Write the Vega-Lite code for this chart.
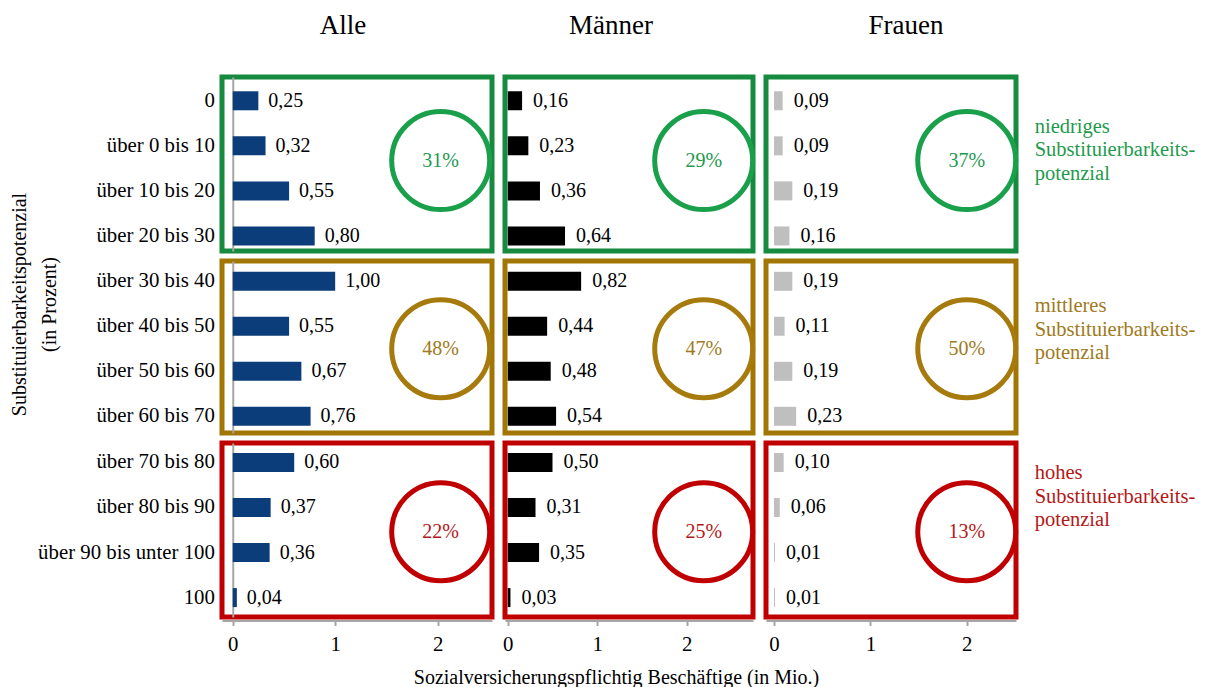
{
  "$schema": "https://vega.github.io/schema/vega-lite/v6.json",
  "padding": {"left": 7, "top": 9, "right": 5, "bottom": 0},
  "background": "#ffffff",
  "config": {
    "font": "Liberation Serif",
    "view": {"stroke": null},
    "locale": {"number": {"decimal": ",", "thousands": ".", "grouping": [3], "currency": ["", " €"]}},
    "axis": {"labelFont": "Liberation Serif", "titleFont": "Liberation Serif", "labelColor": "#000000", "titleColor": "#000000", "grid": false},
    "title": {"font": "Liberation Serif", "color": "#000000", "fontWeight": "normal"},
    "text": {"font": "Liberation Serif"}
  },
  "datasets": {
    "werte": [
      {"gruppe": "Alle", "stufe": "niedrig", "kategorie": "0", "wert": 0.25},
      {"gruppe": "Alle", "stufe": "niedrig", "kategorie": "über 0 bis 10", "wert": 0.32},
      {"gruppe": "Alle", "stufe": "niedrig", "kategorie": "über 10 bis 20", "wert": 0.55},
      {"gruppe": "Alle", "stufe": "niedrig", "kategorie": "über 20 bis 30", "wert": 0.80},
      {"gruppe": "Alle", "stufe": "mittel", "kategorie": "über 30 bis 40", "wert": 1.00},
      {"gruppe": "Alle", "stufe": "mittel", "kategorie": "über 40 bis 50", "wert": 0.55},
      {"gruppe": "Alle", "stufe": "mittel", "kategorie": "über 50 bis 60", "wert": 0.67},
      {"gruppe": "Alle", "stufe": "mittel", "kategorie": "über 60 bis 70", "wert": 0.76},
      {"gruppe": "Alle", "stufe": "hoch", "kategorie": "über 70 bis 80", "wert": 0.60},
      {"gruppe": "Alle", "stufe": "hoch", "kategorie": "über 80 bis 90", "wert": 0.37},
      {"gruppe": "Alle", "stufe": "hoch", "kategorie": "über 90 bis unter 100", "wert": 0.36},
      {"gruppe": "Alle", "stufe": "hoch", "kategorie": "100", "wert": 0.04},
      {"gruppe": "Männer", "stufe": "niedrig", "kategorie": "0", "wert": 0.16},
      {"gruppe": "Männer", "stufe": "niedrig", "kategorie": "über 0 bis 10", "wert": 0.23},
      {"gruppe": "Männer", "stufe": "niedrig", "kategorie": "über 10 bis 20", "wert": 0.36},
      {"gruppe": "Männer", "stufe": "niedrig", "kategorie": "über 20 bis 30", "wert": 0.64},
      {"gruppe": "Männer", "stufe": "mittel", "kategorie": "über 30 bis 40", "wert": 0.82},
      {"gruppe": "Männer", "stufe": "mittel", "kategorie": "über 40 bis 50", "wert": 0.44},
      {"gruppe": "Männer", "stufe": "mittel", "kategorie": "über 50 bis 60", "wert": 0.48},
      {"gruppe": "Männer", "stufe": "mittel", "kategorie": "über 60 bis 70", "wert": 0.54},
      {"gruppe": "Männer", "stufe": "hoch", "kategorie": "über 70 bis 80", "wert": 0.50},
      {"gruppe": "Männer", "stufe": "hoch", "kategorie": "über 80 bis 90", "wert": 0.31},
      {"gruppe": "Männer", "stufe": "hoch", "kategorie": "über 90 bis unter 100", "wert": 0.35},
      {"gruppe": "Männer", "stufe": "hoch", "kategorie": "100", "wert": 0.03},
      {"gruppe": "Frauen", "stufe": "niedrig", "kategorie": "0", "wert": 0.09},
      {"gruppe": "Frauen", "stufe": "niedrig", "kategorie": "über 0 bis 10", "wert": 0.09},
      {"gruppe": "Frauen", "stufe": "niedrig", "kategorie": "über 10 bis 20", "wert": 0.19},
      {"gruppe": "Frauen", "stufe": "niedrig", "kategorie": "über 20 bis 30", "wert": 0.16},
      {"gruppe": "Frauen", "stufe": "mittel", "kategorie": "über 30 bis 40", "wert": 0.19},
      {"gruppe": "Frauen", "stufe": "mittel", "kategorie": "über 40 bis 50", "wert": 0.11},
      {"gruppe": "Frauen", "stufe": "mittel", "kategorie": "über 50 bis 60", "wert": 0.19},
      {"gruppe": "Frauen", "stufe": "mittel", "kategorie": "über 60 bis 70", "wert": 0.23},
      {"gruppe": "Frauen", "stufe": "hoch", "kategorie": "über 70 bis 80", "wert": 0.10},
      {"gruppe": "Frauen", "stufe": "hoch", "kategorie": "über 80 bis 90", "wert": 0.06},
      {"gruppe": "Frauen", "stufe": "hoch", "kategorie": "über 90 bis unter 100", "wert": 0.01},
      {"gruppe": "Frauen", "stufe": "hoch", "kategorie": "100", "wert": 0.01}
    ],
    "anteile": [
      {"gruppe": "Alle", "stufe": "niedrig", "anteil": 0.31},
      {"gruppe": "Alle", "stufe": "mittel", "anteil": 0.48},
      {"gruppe": "Alle", "stufe": "hoch", "anteil": 0.22},
      {"gruppe": "Männer", "stufe": "niedrig", "anteil": 0.29},
      {"gruppe": "Männer", "stufe": "mittel", "anteil": 0.47},
      {"gruppe": "Männer", "stufe": "hoch", "anteil": 0.25},
      {"gruppe": "Frauen", "stufe": "niedrig", "anteil": 0.37},
      {"gruppe": "Frauen", "stufe": "mittel", "anteil": 0.50},
      {"gruppe": "Frauen", "stufe": "hoch", "anteil": 0.13}
    ]
  },
  "columns": 3,
  "bounds": "flush",
  "align": "each",
  "spacing": {"row": 10, "column": 13},
  "concat": [
    {
      "width": 270, "height": 174,
      "title": {"text": "Alle", "fontSize": 27, "offset": 37, "dx": -14, "frame": "group", "anchor": "middle"},
      "view": {"stroke": "#168a3f", "strokeWidth": 5},
      "layer": [
        {"data": {"name": "werte"}, "transform": [{"filter": "datum.gruppe === 'Alle' && datum.stufe === 'niedrig'"}],
         "encoding": {
           "y": {"field": "kategorie", "type": "nominal", "sort": null, "scale": {"paddingInner": 0.578, "paddingOuter": 0.22, "align": 0.72},
                 "axis": {"title": null, "ticks": false, "tickSize": 0, "labelPadding": 18.4, "labelFontSize": 20.8, "domainColor": "#a6a6a6", "domainWidth": 2, "offset": -10.75}},
           "x": {"field": "wert", "type": "quantitative", "scale": {"domain": [-0.105, 2.531], "nice": false}, "axis": null}},
         "layer": [
           {"mark": {"type": "bar", "color": "#0a3d7a"}},
           {"mark": {"type": "text", "align": "left", "baseline": "middle", "dx": 10, "fontSize": 20, "color": "#000000"}, "encoding": {"text": {"field": "wert", "type": "quantitative", "format": ".2f"}}}
         ]},
        {"data": {"name": "anteile"}, "transform": [{"filter": "datum.gruppe === 'Alle' && datum.stufe === 'niedrig'"}],
         "encoding": {"x": {"datum": 2.03, "type": "quantitative", "axis": null}, "y": {"datum": 0.52, "type": "quantitative", "scale": {"domain": [0, 1]}, "axis": null}},
         "layer": [
           {"mark": {"type": "point", "shape": "circle", "filled": false, "size": 9600, "strokeWidth": 5, "color": "#1aa04b", "opacity": 1}},
           {"mark": {"type": "text", "fontSize": 20, "color": "#23994f", "baseline": "middle"}, "encoding": {"text": {"field": "anteil", "type": "quantitative", "format": ".0%"}}}
         ]}
      ],
      "resolve": {"scale": {"y": "independent"}}
    },
    {
      "width": 248, "height": 174,
      "title": {"text": "Männer", "fontSize": 27, "offset": 37, "dx": -18, "frame": "group", "anchor": "middle"},
      "view": {"stroke": "#168a3f", "strokeWidth": 5},
      "layer": [
        {"data": {"name": "werte"}, "transform": [{"filter": "datum.gruppe === 'Männer' && datum.stufe === 'niedrig'"}],
         "encoding": {
           "y": {"field": "kategorie", "type": "nominal", "sort": null, "scale": {"paddingInner": 0.578, "paddingOuter": 0.22, "align": 0.72}, "axis": null},
           "x": {"field": "wert", "type": "quantitative", "scale": {"domain": [-0.031, 2.741], "nice": false}, "axis": null}},
         "layer": [
           {"mark": {"type": "bar", "color": "#000000"}},
           {"mark": {"type": "text", "align": "left", "baseline": "middle", "dx": 11, "fontSize": 20, "color": "#000000"}, "encoding": {"text": {"field": "wert", "type": "quantitative", "format": ".2f"}}}
         ]},
        {"data": {"name": "anteile"}, "transform": [{"filter": "datum.gruppe === 'Männer' && datum.stufe === 'niedrig'"}],
         "encoding": {"x": {"datum": 2.19, "type": "quantitative", "axis": null}, "y": {"datum": 0.52, "type": "quantitative", "scale": {"domain": [0, 1]}, "axis": null}},
         "layer": [
           {"mark": {"type": "point", "shape": "circle", "filled": false, "size": 9600, "strokeWidth": 5, "color": "#1aa04b", "opacity": 1}},
           {"mark": {"type": "text", "fontSize": 20, "color": "#23994f", "baseline": "middle"}, "encoding": {"text": {"field": "anteil", "type": "quantitative", "format": ".0%"}}}
         ]}
      ],
      "resolve": {"scale": {"y": "independent"}}
    },
    {
      "width": 250, "height": 174,
      "title": {"text": "Frauen", "fontSize": 27, "offset": 37, "dx": 15, "frame": "group", "anchor": "middle"},
      "view": {"stroke": "#168a3f", "strokeWidth": 5},
      "layer": [
        {"data": {"name": "werte"}, "transform": [{"filter": "datum.gruppe === 'Frauen' && datum.stufe === 'niedrig'"}],
         "encoding": {
           "y": {"field": "kategorie", "type": "nominal", "sort": null, "scale": {"paddingInner": 0.578, "paddingOuter": 0.22, "align": 0.72}, "axis": null},
           "x": {"field": "wert", "type": "quantitative", "scale": {"domain": [-0.083, 2.511], "nice": false}, "axis": null}},
         "layer": [
           {"mark": {"type": "bar", "color": "#bfbfbf"}},
           {"mark": {"type": "text", "align": "left", "baseline": "middle", "dx": 11, "fontSize": 20, "color": "#000000"}, "encoding": {"text": {"field": "wert", "type": "quantitative", "format": ".2f"}}}
         ]},
        {"data": {"name": "anteile"}, "transform": [{"filter": "datum.gruppe === 'Frauen' && datum.stufe === 'niedrig'"}],
         "encoding": {"x": {"datum": 2.0, "type": "quantitative", "axis": null}, "y": {"datum": 0.52, "type": "quantitative", "scale": {"domain": [0, 1]}, "axis": null}},
         "layer": [
           {"mark": {"type": "point", "shape": "circle", "filled": false, "size": 9600, "strokeWidth": 5, "color": "#1aa04b", "opacity": 1}},
           {"mark": {"type": "text", "fontSize": 20, "color": "#23994f", "baseline": "middle"}, "encoding": {"text": {"field": "anteil", "type": "quantitative", "format": ".0%"}}},
           {"mark": {"type": "text", "text": ["niedriges", "Substituierbarkeits-", "potenzial"], "align": "left", "baseline": "middle", "fontSize": 20.5, "lineHeight": 23.5, "color": "#1f9a4c"},
            "encoding": {"x": {"datum": 2.705, "type": "quantitative", "axis": null}, "y": {"datum": 0.715, "type": "quantitative", "scale": {"domain": [0, 1]}, "axis": null}}}
         ]}
      ],
      "resolve": {"scale": {"y": "independent"}}
    },
    {
      "width": 270, "height": 172,
      "view": {"stroke": "#a17603", "strokeWidth": 5},
      "layer": [
        {"data": {"name": "werte"}, "transform": [{"filter": "datum.gruppe === 'Alle' && datum.stufe === 'mittel'"}],
         "encoding": {
           "y": {"field": "kategorie", "type": "nominal", "sort": null, "scale": {"paddingInner": 0.578, "paddingOuter": 0.2, "align": 0.6},
                 "axis": {"title": ["Substituierbarkeitspotenzial", "(in Prozent)"], "titleFontSize": 20, "titleFontWeight": "normal", "titleLineHeight": 30, "titlePadding": 36, "titleY": 43,
                          "ticks": false, "tickSize": 0, "labelPadding": 18.4, "labelFontSize": 20.8, "domainColor": "#a6a6a6", "domainWidth": 2, "offset": -10.75}},
           "x": {"field": "wert", "type": "quantitative", "scale": {"domain": [-0.105, 2.531], "nice": false}, "axis": null}},
         "layer": [
           {"mark": {"type": "bar", "color": "#0a3d7a"}},
           {"mark": {"type": "text", "align": "left", "baseline": "middle", "dx": 10, "fontSize": 20, "color": "#000000"}, "encoding": {"text": {"field": "wert", "type": "quantitative", "format": ".2f"}}}
         ]},
        {"data": {"name": "anteile"}, "transform": [{"filter": "datum.gruppe === 'Alle' && datum.stufe === 'mittel'"}],
         "encoding": {"x": {"datum": 2.03, "type": "quantitative", "axis": null}, "y": {"datum": 0.49, "type": "quantitative", "scale": {"domain": [0, 1]}, "axis": null}},
         "layer": [
           {"mark": {"type": "point", "shape": "circle", "filled": false, "size": 9600, "strokeWidth": 5, "color": "#a67a0c", "opacity": 1}},
           {"mark": {"type": "text", "fontSize": 20, "color": "#a07a20", "baseline": "middle"}, "encoding": {"text": {"field": "anteil", "type": "quantitative", "format": ".0%"}}}
         ]}
      ],
      "resolve": {"scale": {"y": "independent"}}
    },
    {
      "width": 248, "height": 172,
      "view": {"stroke": "#a17603", "strokeWidth": 5},
      "layer": [
        {"data": {"name": "werte"}, "transform": [{"filter": "datum.gruppe === 'Männer' && datum.stufe === 'mittel'"}],
         "encoding": {
           "y": {"field": "kategorie", "type": "nominal", "sort": null, "scale": {"paddingInner": 0.578, "paddingOuter": 0.2, "align": 0.6}, "axis": null},
           "x": {"field": "wert", "type": "quantitative", "scale": {"domain": [-0.031, 2.741], "nice": false}, "axis": null}},
         "layer": [
           {"mark": {"type": "bar", "color": "#000000"}},
           {"mark": {"type": "text", "align": "left", "baseline": "middle", "dx": 11, "fontSize": 20, "color": "#000000"}, "encoding": {"text": {"field": "wert", "type": "quantitative", "format": ".2f"}}}
         ]},
        {"data": {"name": "anteile"}, "transform": [{"filter": "datum.gruppe === 'Männer' && datum.stufe === 'mittel'"}],
         "encoding": {"x": {"datum": 2.19, "type": "quantitative", "axis": null}, "y": {"datum": 0.49, "type": "quantitative", "scale": {"domain": [0, 1]}, "axis": null}},
         "layer": [
           {"mark": {"type": "point", "shape": "circle", "filled": false, "size": 9600, "strokeWidth": 5, "color": "#a67a0c", "opacity": 1}},
           {"mark": {"type": "text", "fontSize": 20, "color": "#a07a20", "baseline": "middle"}, "encoding": {"text": {"field": "anteil", "type": "quantitative", "format": ".0%"}}}
         ]}
      ],
      "resolve": {"scale": {"y": "independent"}}
    },
    {
      "width": 250, "height": 172,
      "view": {"stroke": "#a17603", "strokeWidth": 5},
      "layer": [
        {"data": {"name": "werte"}, "transform": [{"filter": "datum.gruppe === 'Frauen' && datum.stufe === 'mittel'"}],
         "encoding": {
           "y": {"field": "kategorie", "type": "nominal", "sort": null, "scale": {"paddingInner": 0.578, "paddingOuter": 0.2, "align": 0.6}, "axis": null},
           "x": {"field": "wert", "type": "quantitative", "scale": {"domain": [-0.083, 2.511], "nice": false}, "axis": null}},
         "layer": [
           {"mark": {"type": "bar", "color": "#bfbfbf"}},
           {"mark": {"type": "text", "align": "left", "baseline": "middle", "dx": 11, "fontSize": 20, "color": "#000000"}, "encoding": {"text": {"field": "wert", "type": "quantitative", "format": ".2f"}}}
         ]},
        {"data": {"name": "anteile"}, "transform": [{"filter": "datum.gruppe === 'Frauen' && datum.stufe === 'mittel'"}],
         "encoding": {"x": {"datum": 2.0, "type": "quantitative", "axis": null}, "y": {"datum": 0.49, "type": "quantitative", "scale": {"domain": [0, 1]}, "axis": null}},
         "layer": [
           {"mark": {"type": "point", "shape": "circle", "filled": false, "size": 9600, "strokeWidth": 5, "color": "#a67a0c", "opacity": 1}},
           {"mark": {"type": "text", "fontSize": 20, "color": "#a07a20", "baseline": "middle"}, "encoding": {"text": {"field": "anteil", "type": "quantitative", "format": ".0%"}}},
           {"mark": {"type": "text", "text": ["mittleres", "Substituierbarkeits-", "potenzial"], "align": "left", "baseline": "middle", "fontSize": 20.5, "lineHeight": 23.5, "color": "#a07a20"},
            "encoding": {"x": {"datum": 2.705, "type": "quantitative", "axis": null}, "y": {"datum": 0.737, "type": "quantitative", "scale": {"domain": [0, 1]}, "axis": null}}}
         ]}
      ],
      "resolve": {"scale": {"y": "independent"}}
    },
    {
      "width": 270, "height": 174,
      "view": {"stroke": "#c00000", "strokeWidth": 5},
      "layer": [
        {"data": {"name": "werte"}, "transform": [{"filter": "datum.gruppe === 'Alle' && datum.stufe === 'hoch'"}],
         "encoding": {
           "y": {"field": "kategorie", "type": "nominal", "sort": null, "scale": {"paddingInner": 0.578, "paddingOuter": 0.22, "align": 0.5},
                 "axis": {"title": null, "ticks": false, "tickSize": 0, "labelPadding": 18.4, "labelFontSize": 20.8, "domainColor": "#a6a6a6", "domainWidth": 2, "offset": -10.75}},
           "x": {"field": "wert", "type": "quantitative", "scale": {"domain": [-0.105, 2.531], "nice": false},
                 "axis": {"values": [0, 1, 2], "format": "d", "title": null, "offset": 3.5, "domainColor": "#a6a6a6", "domainWidth": 2, "tickColor": "#a6a6a6", "tickSize": 5, "tickWidth": 2, "labelFontSize": 20.8, "labelPadding": 9, "labelFlush": false}}},
         "layer": [
           {"mark": {"type": "bar", "color": "#0a3d7a"}},
           {"mark": {"type": "text", "align": "left", "baseline": "middle", "dx": 10, "fontSize": 20, "color": "#000000"}, "encoding": {"text": {"field": "wert", "type": "quantitative", "format": ".2f"}}}
         ]},
        {"data": {"name": "anteile"}, "transform": [{"filter": "datum.gruppe === 'Alle' && datum.stufe === 'hoch'"}],
         "encoding": {"x": {"datum": 2.03, "type": "quantitative",
                            "axis": {"values": [0, 1, 2], "format": "d", "title": null, "offset": 3.5, "domainColor": "#a6a6a6", "domainWidth": 2, "tickColor": "#a6a6a6", "tickSize": 5, "tickWidth": 2, "labelFontSize": 20.8, "labelPadding": 9, "labelFlush": false}},
                      "y": {"datum": 0.49, "type": "quantitative", "scale": {"domain": [0, 1]}, "axis": null}},
         "layer": [
           {"mark": {"type": "point", "shape": "circle", "filled": false, "size": 9600, "strokeWidth": 5, "color": "#c00000", "opacity": 1}},
           {"mark": {"type": "text", "fontSize": 20, "color": "#b31818", "baseline": "middle"}, "encoding": {"text": {"field": "anteil", "type": "quantitative", "format": ".0%"}}}
         ]}
      ],
      "resolve": {"scale": {"y": "independent"}}
    },
    {
      "width": 248, "height": 174,
      "view": {"stroke": "#c00000", "strokeWidth": 5},
      "layer": [
        {"data": {"name": "werte"}, "transform": [{"filter": "datum.gruppe === 'Männer' && datum.stufe === 'hoch'"}],
         "encoding": {
           "y": {"field": "kategorie", "type": "nominal", "sort": null, "scale": {"paddingInner": 0.578, "paddingOuter": 0.22, "align": 0.5}, "axis": null},
           "x": {"field": "wert", "type": "quantitative", "scale": {"domain": [-0.031, 2.741], "nice": false},
                 "axis": {"values": [0, 1, 2], "format": "d", "title": "Sozialversicherungspflichtig Beschäftige (in Mio.)", "titleFontSize": 20, "titleFontWeight": "normal", "titlePadding": 13, "titleX": 111,
                          "offset": 3.5, "domainColor": "#a6a6a6", "domainWidth": 2, "tickColor": "#a6a6a6", "tickSize": 5, "tickWidth": 2, "labelFontSize": 20.8, "labelPadding": 9, "labelFlush": false}}},
         "layer": [
           {"mark": {"type": "bar", "color": "#000000"}},
           {"mark": {"type": "text", "align": "left", "baseline": "middle", "dx": 11, "fontSize": 20, "color": "#000000"}, "encoding": {"text": {"field": "wert", "type": "quantitative", "format": ".2f"}}}
         ]},
        {"data": {"name": "anteile"}, "transform": [{"filter": "datum.gruppe === 'Männer' && datum.stufe === 'hoch'"}],
         "encoding": {"x": {"datum": 2.19, "type": "quantitative",
                            "axis": {"values": [0, 1, 2], "format": "d", "title": "Sozialversicherungspflichtig Beschäftige (in Mio.)", "titleFontSize": 20, "titleFontWeight": "normal", "titlePadding": 13, "titleX": 111,
                                     "offset": 3.5, "domainColor": "#a6a6a6", "domainWidth": 2, "tickColor": "#a6a6a6", "tickSize": 5, "tickWidth": 2, "labelFontSize": 20.8, "labelPadding": 9, "labelFlush": false}},
                      "y": {"datum": 0.49, "type": "quantitative", "scale": {"domain": [0, 1]}, "axis": null}},
         "layer": [
           {"mark": {"type": "point", "shape": "circle", "filled": false, "size": 9600, "strokeWidth": 5, "color": "#c00000", "opacity": 1}},
           {"mark": {"type": "text", "fontSize": 20, "color": "#b31818", "baseline": "middle"}, "encoding": {"text": {"field": "anteil", "type": "quantitative", "format": ".0%"}}}
         ]}
      ],
      "resolve": {"scale": {"y": "independent"}}
    },
    {
      "width": 250, "height": 174,
      "view": {"stroke": "#c00000", "strokeWidth": 5},
      "layer": [
        {"data": {"name": "werte"}, "transform": [{"filter": "datum.gruppe === 'Frauen' && datum.stufe === 'hoch'"}],
         "encoding": {
           "y": {"field": "kategorie", "type": "nominal", "sort": null, "scale": {"paddingInner": 0.578, "paddingOuter": 0.22, "align": 0.5}, "axis": null},
           "x": {"field": "wert", "type": "quantitative", "scale": {"domain": [-0.083, 2.511], "nice": false},
                 "axis": {"values": [0, 1, 2], "format": "d", "title": null, "offset": 3.5, "domainColor": "#a6a6a6", "domainWidth": 2, "tickColor": "#a6a6a6", "tickSize": 5, "tickWidth": 2, "labelFontSize": 20.8, "labelPadding": 9, "labelFlush": false}}},
         "layer": [
           {"mark": {"type": "bar", "color": "#bfbfbf"}},
           {"mark": {"type": "text", "align": "left", "baseline": "middle", "dx": 11, "fontSize": 20, "color": "#000000"}, "encoding": {"text": {"field": "wert", "type": "quantitative", "format": ".2f"}}}
         ]},
        {"data": {"name": "anteile"}, "transform": [{"filter": "datum.gruppe === 'Frauen' && datum.stufe === 'hoch'"}],
         "encoding": {"x": {"datum": 2.0, "type": "quantitative",
                            "axis": {"values": [0, 1, 2], "format": "d", "title": null, "offset": 3.5, "domainColor": "#a6a6a6", "domainWidth": 2, "tickColor": "#a6a6a6", "tickSize": 5, "tickWidth": 2, "labelFontSize": 20.8, "labelPadding": 9, "labelFlush": false}},
                      "y": {"datum": 0.49, "type": "quantitative", "scale": {"domain": [0, 1]}, "axis": null}},
         "layer": [
           {"mark": {"type": "point", "shape": "circle", "filled": false, "size": 9600, "strokeWidth": 5, "color": "#c00000", "opacity": 1}},
           {"mark": {"type": "text", "fontSize": 20, "color": "#b31818", "baseline": "middle"}, "encoding": {"text": {"field": "anteil", "type": "quantitative", "format": ".0%"}}},
           {"mark": {"type": "text", "text": ["hohes", "Substituierbarkeits-", "potenzial"], "align": "left", "baseline": "middle", "fontSize": 20.5, "lineHeight": 23.5, "color": "#b31818"},
            "encoding": {"x": {"datum": 2.705, "type": "quantitative",
                               "axis": {"values": [0, 1, 2], "format": "d", "title": null, "offset": 3.5, "domainColor": "#a6a6a6", "domainWidth": 2, "tickColor": "#a6a6a6", "tickSize": 5, "tickWidth": 2, "labelFontSize": 20.8, "labelPadding": 9, "labelFlush": false}},
                         "y": {"datum": 0.825, "type": "quantitative", "scale": {"domain": [0, 1]}, "axis": null}}}
         ]}
      ],
      "resolve": {"scale": {"y": "independent"}}
    }
  ]
}
